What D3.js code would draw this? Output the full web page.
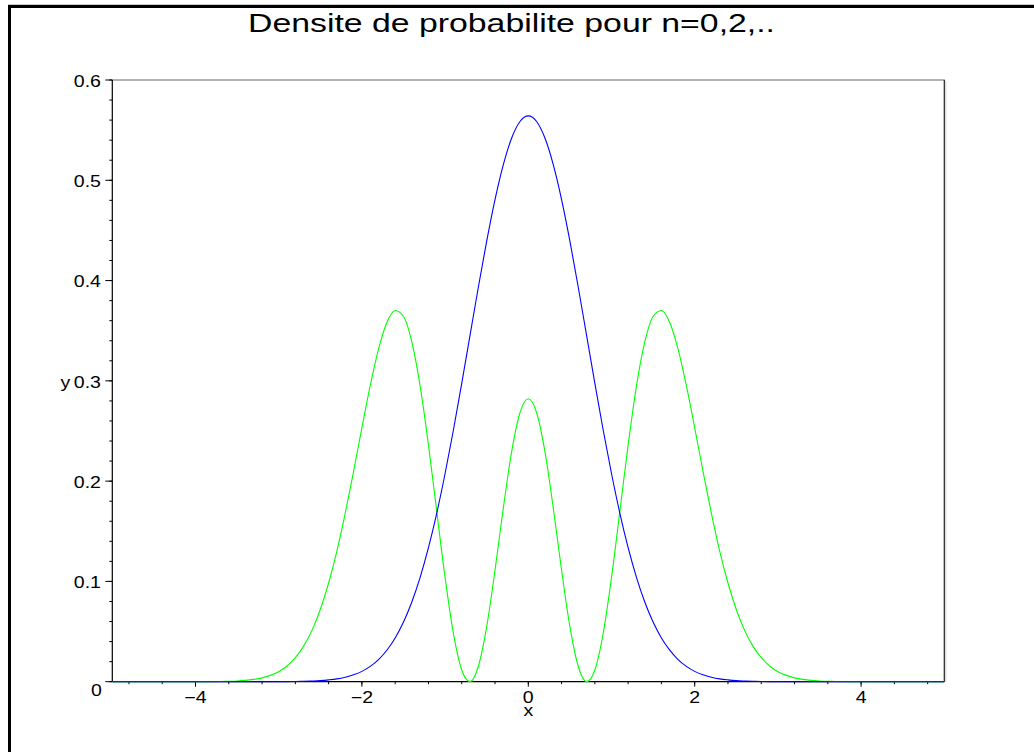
<!DOCTYPE html>
<html>
<head>
<meta charset="utf-8">
<script src="https://cdn.jsdelivr.net/npm/d3@7"></script>
<style>
  html, body { margin: 0; padding: 0; background: #fff; }
  svg { display: block; }
  text { font-family: "Liberation Sans", Arial, Helvetica, sans-serif; fill: #000; }
</style>
</head>
<body>
<svg id="chart" width="1034" height="752"></svg>
<script>
// Sample positions along x
const xs = [
  -5, -4.5,
  -4.0, -3.9, -3.8, -3.7, -3.6, -3.5, -3.4, -3.3, -3.2, -3.1,
  -3.0, -2.9, -2.8, -2.7, -2.6, -2.5, -2.4, -2.3, -2.2, -2.1,
  -2.0, -1.9, -1.8, -1.7, -1.6, -1.5, -1.4, -1.3, -1.2, -1.1,
  -1.0, -0.9, -0.8, -0.7, -0.6, -0.5, -0.4, -0.3, -0.2, -0.1,
  0,
  0.1, 0.2, 0.3, 0.4, 0.5, 0.6, 0.7, 0.8, 0.9, 1.0,
  1.1, 1.2, 1.3, 1.4, 1.5, 1.6, 1.7, 1.8, 1.9, 2.0,
  2.1, 2.2, 2.3, 2.4, 2.5, 2.6, 2.7, 2.8, 2.9, 3.0,
  3.1, 3.2, 3.3, 3.4, 3.5, 3.6, 3.7, 3.8, 3.9, 4.0,
  4.5, 5
];

// Probability density, state n = 0
const densityN0 = [
  0, 0,
  0, 0, 0, 0, 0, 0, 0, 0, 0, 0,
  0.0001, 0.0001, 0.0002, 0.0004, 0.0007, 0.0011, 0.0018, 0.0028, 0.0045, 0.0069,
  0.0103, 0.0153, 0.0221, 0.0314, 0.0436, 0.0595, 0.0795, 0.1041, 0.1337, 0.1682,
  0.2076, 0.2510, 0.2975, 0.3456, 0.3936, 0.4394, 0.4808, 0.5156, 0.5421, 0.5586,
  0.5642,
  0.5586, 0.5421, 0.5156, 0.4808, 0.4394, 0.3936, 0.3456, 0.2975, 0.2510, 0.2076,
  0.1682, 0.1337, 0.1041, 0.0795, 0.0595, 0.0436, 0.0314, 0.0221, 0.0153, 0.0103,
  0.0069, 0.0045, 0.0028, 0.0018, 0.0011, 0.0007, 0.0004, 0.0002, 0.0001, 0.0001,
  0, 0, 0, 0, 0, 0, 0, 0, 0, 0,
  0, 0
];

// Probability density, state n = 2
const densityN2 = [
  0, 0,
  0, 0.0001, 0.0001, 0.0002, 0.0004, 0.0007, 0.0013, 0.0023, 0.0038, 0.0063,
  0.0100, 0.0157, 0.0240, 0.0355, 0.0512, 0.0720, 0.0984, 0.1305, 0.1681, 0.2097,
  0.2532, 0.2952, 0.3317, 0.3582, 0.3701, 0.3642, 0.3388, 0.2948, 0.2362, 0.1696,
  0.1038, 0.0482, 0.0117, 0.0001, 0.0154, 0.0549, 0.1112, 0.1734, 0.2294, 0.2682,
  0.2821,
  0.2682, 0.2294, 0.1734, 0.1112, 0.0549, 0.0154, 0.0001, 0.0117, 0.0482, 0.1038,
  0.1696, 0.2362, 0.2948, 0.3388, 0.3642, 0.3701, 0.3582, 0.3317, 0.2952, 0.2532,
  0.2097, 0.1681, 0.1305, 0.0984, 0.0720, 0.0512, 0.0355, 0.0240, 0.0157, 0.0100,
  0.0063, 0.0038, 0.0023, 0.0013, 0.0007, 0.0004, 0.0002, 0.0001, 0.0001, 0,
  0, 0
];

const xTickValues = [-4, -2, 0, 2, 4];
const xTickLabels = ["\u22124", "\u22122", "0", "2", "4"];
const yTickValues = [0, 0.1, 0.2, 0.3, 0.4, 0.5, 0.6];
const yTickLabels = ["0", "0.1", "0.2", "0.3", "0.4", "0.5", "0.6"];
const titleText = "Densite de probabilite pour n=0,2,..";

const svg = d3.select("#chart");

// Widen a text's glyphs horizontally by a factor
function widen(sel, factor) {
  sel.each(function () {
    const w = this.getComputedTextLength();
    d3.select(this).attr("textLength", w * factor).attr("lengthAdjust", "spacingAndGlyphs");
  });
}

// Outer frame (top and left edges)
svg.append("line").attr("x1", 8).attr("x2", 1034).attr("y1", 4.5).attr("y2", 4.5)
  .attr("stroke", "#ccc").attr("stroke-width", 1);
svg.append("line").attr("x1", 8).attr("x2", 1034).attr("y1", 6.5).attr("y2", 6.5)
  .attr("stroke", "#000").attr("stroke-width", 3);
svg.append("line").attr("x1", 9.5).attr("x2", 9.5).attr("y1", 5).attr("y2", 752)
  .attr("stroke", "#000").attr("stroke-width", 3);

const plot = { left: 112.3, right: 944.3, top: 80, bottom: 681.7 };

const x = d3.scaleLinear().domain([-5, 5]).range([plot.left, plot.right]);
const y = d3.scaleLinear().domain([0, 0.6]).range([plot.bottom, plot.top]);

// Title
svg.append("text")
  .attr("x", 511.5).attr("y", 32)
  .attr("text-anchor", "middle")
  .attr("font-size", 25)
  .attr("textLength", 527)
  .attr("lengthAdjust", "spacingAndGlyphs")
  .text(titleText);

// Box: top and right edges
svg.append("line").attr("x1", plot.left).attr("x2", plot.right + 0.5)
  .attr("y1", plot.top).attr("y2", plot.top)
  .attr("stroke", "#666").attr("stroke-width", 1.2);
svg.append("line").attr("x1", plot.right + 1.5).attr("x2", plot.right + 1.5)
  .attr("y1", plot.top + 1).attr("y2", plot.bottom)
  .attr("stroke", "#d0d0d0").attr("stroke-width", 1);
svg.append("line").attr("x1", plot.right).attr("x2", plot.right)
  .attr("y1", plot.top).attr("y2", plot.bottom)
  .attr("stroke", "#222").attr("stroke-width", 1.2);

// Y axis: major ticks every 0.1, minor every 0.02
const yAxis = g => {
  g.append("line").attr("x1", plot.left).attr("x2", plot.left)
    .attr("y1", plot.top).attr("y2", plot.bottom)
    .attr("stroke", "#000").attr("stroke-width", 1.2);
  const minor = d3.range(0, 31).map(i => i * 0.02);
  g.selectAll("line.ymin").data(minor).join("line").attr("class", "ymin")
    .attr("x1", plot.left - 3).attr("x2", plot.left)
    .attr("y1", d => y(d)).attr("y2", d => y(d))
    .attr("stroke", "#000").attr("stroke-width", 1);
  g.selectAll("line.ymaj").data(yTickValues).join("line").attr("class", "ymaj")
    .attr("x1", plot.left - 7).attr("x2", plot.left)
    .attr("y1", d => y(d)).attr("y2", d => y(d))
    .attr("stroke", "#000").attr("stroke-width", 1);
  g.selectAll("text.ylab").data(yTickValues).join("text").attr("class", "ylab")
    .attr("x", (d, i) => i === 0 ? 102 : 101)
    .attr("y", (d, i) => y(d) + (i === 0 ? 9 : 1))
    .attr("dy", "0.36em")
    .attr("text-anchor", "end")
    .attr("font-size", 16)
    .text((d, i) => yTickLabels[i])
    .call(widen, 1.22);
};
svg.append("g").call(yAxis);

// Axis title y
svg.append("text").attr("x", 65.5).attr("y", y(0.3) + 1).attr("dy", "0.36em")
  .attr("text-anchor", "middle").attr("font-size", 16).text("y")
  .call(widen, 1.22);

// X axis along y = 0: major ticks every 2, minor every 0.4
const xAxis = g => {
  g.append("line").attr("x1", plot.left).attr("x2", plot.right)
    .attr("y1", plot.bottom).attr("y2", plot.bottom)
    .attr("stroke", "#000").attr("stroke-width", 1.2);
  const minor = d3.range(-12, 13).map(i => i * 0.4);
  g.selectAll("line.xmin").data(minor).join("line").attr("class", "xmin")
    .attr("x1", d => x(d)).attr("x2", d => x(d))
    .attr("y1", plot.bottom).attr("y2", plot.bottom + 2.5)
    .attr("stroke", "#000").attr("stroke-width", 1);
  g.selectAll("line.xmaj").data(xTickValues).join("line").attr("class", "xmaj")
    .attr("x1", d => x(d)).attr("x2", d => x(d))
    .attr("y1", plot.bottom).attr("y2", plot.bottom + 5)
    .attr("stroke", "#000").attr("stroke-width", 1);
  g.selectAll("text.xlab").data(xTickValues).join("text").attr("class", "xlab")
    .attr("x", d => x(d)).attr("y", plot.bottom + 21.5)
    .attr("text-anchor", "middle")
    .attr("font-size", 16)
    .text((d, i) => xTickLabels[i])
    .call(widen, 1.22);
};
svg.append("g").call(xAxis);

// Axis title x
svg.append("text").attr("x", x(0)).attr("y", plot.bottom + 34.5)
  .attr("text-anchor", "middle").attr("font-size", 16).text("x")
  .call(widen, 1.22);

// Density curves
const line = d3.line()
  .x((d, i) => x(xs[i]))
  .y(d => y(d))
  .curve(d3.curveMonotoneX);

svg.append("path").datum(densityN2)
  .attr("d", line)
  .attr("fill", "none").attr("stroke", "#00ff00").attr("stroke-width", 1.1);
svg.append("path").datum(densityN0)
  .attr("d", line)
  .attr("fill", "none").attr("stroke", "#0000ff").attr("stroke-width", 1.1);
</script>
</body>
</html>
